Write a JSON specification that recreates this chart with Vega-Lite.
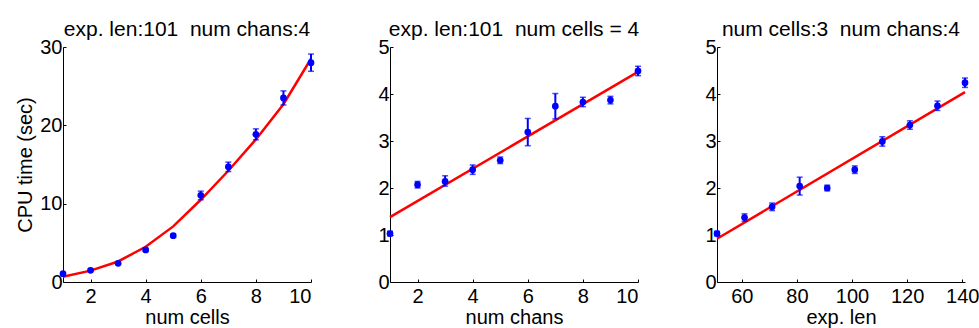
{
  "$schema": "https://vega.github.io/schema/vega-lite/v6.json",
  "background": "white",
  "padding": {"left": 15, "top": 19, "right": 2, "bottom": 2},
  "config": {
    "view": {"stroke": null},
    "font": "Liberation Sans",
    "axis": {
      "grid": false,
      "domainColor": "#000000",
      "domainWidth": 1,
      "tickColor": "#000000",
      "tickSize": -3,
      "labelFont": "Liberation Sans",
      "labelFontSize": 20,
      "labelColor": "#000000",
      "titleFont": "Liberation Sans",
      "titleFontSize": 20,
      "titleFontWeight": "normal",
      "titleColor": "#000000"
    },
    "axisX": {"labelPadding": 7, "titlePadding": 1},
    "axisY": {"labelPadding": 4, "titlePadding": 4},
    "title": {"font": "Liberation Sans", "fontSize": 21, "fontWeight": "normal", "color": "#000000", "offset": -3}
  },
  "datasets": {
    "cells_pts": [
      {"x": 1, "y": 1.06, "lo": 0.96, "hi": 1.16},
      {"x": 2, "y": 1.49, "lo": 1.34, "hi": 1.64},
      {"x": 3, "y": 2.38, "lo": 2.23, "hi": 2.53},
      {"x": 4, "y": 4.09, "lo": 3.89, "hi": 4.29},
      {"x": 5, "y": 5.91, "lo": 5.71, "hi": 6.11},
      {"x": 6, "y": 11.06, "lo": 10.5, "hi": 11.6},
      {"x": 7, "y": 14.7, "lo": 14.1, "hi": 15.3},
      {"x": 8, "y": 18.85, "lo": 18.15, "hi": 19.55},
      {"x": 9, "y": 23.5, "lo": 22.6, "hi": 24.4},
      {"x": 10, "y": 28.0, "lo": 26.9, "hi": 29.1}
    ],
    "cells_fit": [
      {"x": 1, "y": 0.66},
      {"x": 2, "y": 1.45},
      {"x": 3, "y": 2.62},
      {"x": 4, "y": 4.5},
      {"x": 5, "y": 7.1},
      {"x": 6, "y": 10.5},
      {"x": 7, "y": 14.2},
      {"x": 8, "y": 18.2},
      {"x": 9, "y": 22.7},
      {"x": 10, "y": 28.5}
    ],
    "chans_pts": [
      {"x": 1, "y": 1.03, "lo": 0.98, "hi": 1.08},
      {"x": 2, "y": 2.07, "lo": 2.0, "hi": 2.14},
      {"x": 3, "y": 2.14, "lo": 2.04, "hi": 2.26},
      {"x": 4, "y": 2.39, "lo": 2.29, "hi": 2.49},
      {"x": 5, "y": 2.59, "lo": 2.52, "hi": 2.66},
      {"x": 6, "y": 3.19, "lo": 2.9, "hi": 3.48},
      {"x": 7, "y": 3.74, "lo": 3.47, "hi": 4.01},
      {"x": 8, "y": 3.83, "lo": 3.73, "hi": 3.93},
      {"x": 9, "y": 3.87, "lo": 3.79, "hi": 3.95},
      {"x": 10, "y": 4.49, "lo": 4.39, "hi": 4.59}
    ],
    "chans_fit": [
      {"x": 1, "y": 1.38},
      {"x": 10, "y": 4.47}
    ],
    "len_pts": [
      {"x": 51, "y": 1.03, "lo": 0.98, "hi": 1.08},
      {"x": 61, "y": 1.37, "lo": 1.29, "hi": 1.45},
      {"x": 71, "y": 1.6, "lo": 1.52, "hi": 1.68},
      {"x": 81, "y": 2.04, "lo": 1.85, "hi": 2.23},
      {"x": 91, "y": 2.0, "lo": 1.94, "hi": 2.06},
      {"x": 101, "y": 2.39, "lo": 2.31, "hi": 2.47},
      {"x": 111, "y": 2.99, "lo": 2.89, "hi": 3.09},
      {"x": 121, "y": 3.34, "lo": 3.25, "hi": 3.43},
      {"x": 131, "y": 3.75, "lo": 3.65, "hi": 3.85},
      {"x": 141, "y": 4.24, "lo": 4.14, "hi": 4.34}
    ],
    "len_fit": [
      {"x": 51, "y": 0.92},
      {"x": 141, "y": 4.04}
    ]
  },
  "hconcat": [
    {
      "width": 248,
      "height": 235,
      "title": "exp. len:101\u00a0\u00a0num chans:4",
      "layer": [
        {
          "data": {"name": "cells_fit"},
          "mark": {"type": "line", "color": "#ff0000", "strokeWidth": 2.5},
          "encoding": {
            "x": {"field": "x", "type": "quantitative", "scale": {"domain": [1, 10], "nice": false}, "axis": {"title": "num cells", "values": [2, 4, 6, 8, 10]}},
            "y": {"field": "y", "type": "quantitative", "scale": {"domain": [0, 30], "nice": false}, "axis": {"title": "CPU time (sec)", "values": [0, 10, 20, 30]}}
          }
        },
        {
          "data": {"name": "cells_pts"},
          "mark": {"type": "rule", "color": "#0000ff", "strokeWidth": 2},
          "encoding": {"x": {"field": "x", "type": "quantitative"}, "y": {"field": "lo", "type": "quantitative"}, "y2": {"field": "hi"}}
        },
        {
          "data": {"name": "cells_pts"},
          "mark": {"type": "tick", "orient": "horizontal", "color": "#0000ff", "size": 6, "thickness": 1.5},
          "encoding": {"x": {"field": "x", "type": "quantitative"}, "y": {"field": "lo", "type": "quantitative"}}
        },
        {
          "data": {"name": "cells_pts"},
          "mark": {"type": "tick", "orient": "horizontal", "color": "#0000ff", "size": 6, "thickness": 1.5},
          "encoding": {"x": {"field": "x", "type": "quantitative"}, "y": {"field": "hi", "type": "quantitative"}}
        },
        {
          "data": {"name": "cells_pts"},
          "mark": {"type": "point", "filled": true, "color": "#0000ff", "opacity": 1, "size": 45},
          "encoding": {"x": {"field": "x", "type": "quantitative"}, "y": {"field": "y", "type": "quantitative"}}
        }
      ]
    },
    {
      "width": 248,
      "height": 235,
      "title": "exp. len:101\u00a0\u00a0num cells = 4",
      "layer": [
        {
          "data": {"name": "chans_fit"},
          "mark": {"type": "line", "color": "#ff0000", "strokeWidth": 2.5},
          "encoding": {
            "x": {"field": "x", "type": "quantitative", "scale": {"domain": [1, 10], "nice": false}, "axis": {"title": "num chans", "values": [2, 4, 6, 8, 10]}},
            "y": {"field": "y", "type": "quantitative", "scale": {"domain": [0, 5], "nice": false}, "axis": {"title": null, "values": [0, 1, 2, 3, 4, 5]}}
          }
        },
        {
          "data": {"name": "chans_pts"},
          "mark": {"type": "rule", "color": "#0000ff", "strokeWidth": 2},
          "encoding": {"x": {"field": "x", "type": "quantitative"}, "y": {"field": "lo", "type": "quantitative"}, "y2": {"field": "hi"}}
        },
        {
          "data": {"name": "chans_pts"},
          "mark": {"type": "tick", "orient": "horizontal", "color": "#0000ff", "size": 6, "thickness": 1.5},
          "encoding": {"x": {"field": "x", "type": "quantitative"}, "y": {"field": "lo", "type": "quantitative"}}
        },
        {
          "data": {"name": "chans_pts"},
          "mark": {"type": "tick", "orient": "horizontal", "color": "#0000ff", "size": 6, "thickness": 1.5},
          "encoding": {"x": {"field": "x", "type": "quantitative"}, "y": {"field": "hi", "type": "quantitative"}}
        },
        {
          "data": {"name": "chans_pts"},
          "mark": {"type": "point", "filled": true, "color": "#0000ff", "opacity": 1, "size": 45},
          "encoding": {"x": {"field": "x", "type": "quantitative"}, "y": {"field": "y", "type": "quantitative"}}
        }
      ]
    },
    {
      "width": 248,
      "height": 235,
      "title": "num cells:3\u00a0\u00a0num chans:4",
      "layer": [
        {
          "data": {"name": "len_fit"},
          "mark": {"type": "line", "color": "#ff0000", "strokeWidth": 2.5},
          "encoding": {
            "x": {"field": "x", "type": "quantitative", "scale": {"domain": [51, 141], "nice": false}, "axis": {"title": "exp. len", "values": [60, 80, 100, 120, 140]}},
            "y": {"field": "y", "type": "quantitative", "scale": {"domain": [0, 5], "nice": false}, "axis": {"title": null, "values": [0, 1, 2, 3, 4, 5]}}
          }
        },
        {
          "data": {"name": "len_pts"},
          "mark": {"type": "rule", "color": "#0000ff", "strokeWidth": 2},
          "encoding": {"x": {"field": "x", "type": "quantitative"}, "y": {"field": "lo", "type": "quantitative"}, "y2": {"field": "hi"}}
        },
        {
          "data": {"name": "len_pts"},
          "mark": {"type": "tick", "orient": "horizontal", "color": "#0000ff", "size": 6, "thickness": 1.5},
          "encoding": {"x": {"field": "x", "type": "quantitative"}, "y": {"field": "lo", "type": "quantitative"}}
        },
        {
          "data": {"name": "len_pts"},
          "mark": {"type": "tick", "orient": "horizontal", "color": "#0000ff", "size": 6, "thickness": 1.5},
          "encoding": {"x": {"field": "x", "type": "quantitative"}, "y": {"field": "hi", "type": "quantitative"}}
        },
        {
          "data": {"name": "len_pts"},
          "mark": {"type": "point", "filled": true, "color": "#0000ff", "opacity": 1, "size": 45},
          "encoding": {"x": {"field": "x", "type": "quantitative"}, "y": {"field": "y", "type": "quantitative"}}
        }
      ]
    }
  ],
  "spacing": 79,
  "bounds": "flush"
}
